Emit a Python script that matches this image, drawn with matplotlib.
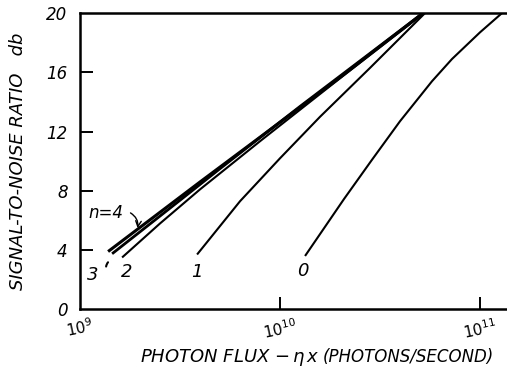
import numpy as np
import matplotlib.pyplot as plt

# SNR curves, log10 of photon flux vs db, one per n
logx_4 = [9.14, 9.6, 10.285, 10.715]
snr_4 = [3.9, 8.6, 15.5, 20.0]
logx_3 = [9.16, 9.4, 9.7, 10.1, 10.715]
snr_3 = [3.75, 6.3, 9.5, 13.7, 20.0]
logx_2 = [9.21, 9.4, 9.6, 9.9, 10.3, 10.72]
snr_2 = [3.5, 5.8, 8.1, 11.35, 15.6, 20.0]
logx_1 = [9.585, 9.8, 10.0, 10.2, 10.45, 10.725]
snr_1 = [3.7, 7.3, 10.2, 13.0, 16.3, 20.0]
logx_0 = [10.125, 10.32, 10.46, 10.6, 10.76, 10.86, 11.0, 11.11]
snr_0 = [3.6, 7.45, 10.1, 12.7, 15.4, 16.9, 18.7, 20.0]

yticks = [0, 4, 8, 12, 16, 20]
xticks = [1e9, 1e10, 1e11]
xticklabels = [r'$10^9$', r'$10^{10}$', r'$10^{11}$']

fig = plt.figure(figsize=(5.07, 3.74), dpi=100)
ax = fig.add_axes([0.158, 0.173, 0.842, 0.792])

curves = [(logx_4, snr_4, 2.2), (logx_3, snr_3, 2.0), (logx_2, snr_2, 1.5),
          (logx_1, snr_1, 1.5), (logx_0, snr_0, 1.5)]
for lx, s, w in curves:
    ax.plot(10 ** np.array(lx), s, color='black', lw=w, solid_capstyle='butt')

ax.set_xscale('log')
ax.set_xlim(1e9, 10 ** 11.135)
ax.set_ylim(0, 20)
ax.spines['right'].set_visible(False)
for sp in ['left', 'bottom', 'top']:
    ax.spines[sp].set_linewidth(1.8)

ax.set_yticks(yticks)
ax.set_yticklabels([str(v) for v in yticks], fontsize=12, style='italic')
ax.set_xticks(xticks)
ax.set_xticklabels(xticklabels, fontsize=11, style='italic', rotation=12)
ax.xaxis.set_minor_locator(plt.NullLocator())
ax.tick_params(axis='y', direction='in', length=9, width=1.4, pad=9)
ax.tick_params(axis='x', direction='in', length=9, width=1.4, pad=5)
ax.yaxis.get_major_ticks()[0].tick1line.set_visible(False)
ax.yaxis.get_major_ticks()[-1].tick1line.set_visible(False)
ax.xaxis.get_major_ticks()[0].tick1line.set_visible(False)

# curve labels
lab = dict(fontsize=13, style='italic', ha='center', va='center')
ax.text(10 ** 9.065, 2.3, '3', **lab)
ax.text(10 ** 9.235, 2.55, '2', **lab)
ax.text(10 ** 9.585, 2.55, '1', **lab)
ax.text(10 ** 10.115, 2.6, '0', **lab)
ax.annotate('', xy=(10 ** 9.15, 3.3), xytext=(10 ** 9.13, 2.7),
            arrowprops=dict(arrowstyle='-', lw=1.5, color='black',
                            connectionstyle='arc3,rad=-0.3'))
ax.text(10 ** 9.13, 6.5, 'n=4', fontsize=12, style='italic', ha='center', va='center')
ax.annotate('', xy=(10 ** 9.285, 5.3), xytext=(10 ** 9.24, 6.6),
            arrowprops=dict(arrowstyle='->', lw=1.0, color='black',
                            connectionstyle='arc3,rad=-0.4'))

fig.text(0.035, 0.57, 'SIGNAL-TO-NOISE RATIO   db', rotation=90, fontsize=13,
         style='italic', ha='center', va='center')
fig.text(0.631, 0.045, r'PHOTON FLUX $-\,\eta\,$x', fontsize=13,
         style='italic', ha='right', va='center')
fig.text(0.637, 0.045, '(PHOTONS/SECOND)', fontsize=12,
         style='italic', ha='left', va='center')

fig.savefig('out.png', dpi=100)
